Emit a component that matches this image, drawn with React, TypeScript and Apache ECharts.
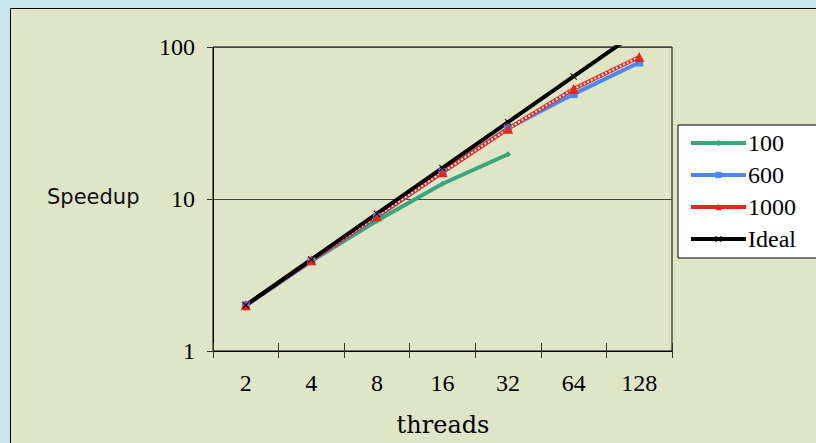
import React, { useEffect, useRef } from "react";
import * as echarts from "echarts";

const threads = ["2", "4", "8", "16", "32", "64", "128"];
const speedup100 = [2, 3.9, 7.2, 12.6, 19.7];
const speedup600 = [2, 3.9, 7.6, 15.0, 29.2, 49, 79];
const speedup1000 = [2, 3.95, 7.7, 15.0, 29.0, 53, 86];
const ideal = [2, 4, 8, 16, 32, 64, 128];
const yTicks = [1, 10, 100];

const SERIF = "'Liberation Serif', 'Times New Roman', serif";
const SERIF_WIDE = "'DejaVu Serif', serif";
const SANS = "'DejaVu Sans', sans-serif";
const XSYM = "path://M0,1L1,0L5,4L9,0L10,1L6,5L10,9L9,10L5,6L1,10L0,9L4,5Z";

export default function App() {
  const ref = useRef<HTMLDivElement>(null);
  useEffect(() => {
    if (!ref.current) return;
    const chart = echarts.init(ref.current, null, { renderer: "svg" });
    chart.setOption({
      animation: false,
      backgroundColor: "#c7e4ee",
      graphic: [
        {
          type: "rect",
          z: -10,
          shape: { x: 10.5, y: 8.5, width: 830, height: 460 },
          style: { fill: "#dfe6c8", stroke: "#000", lineWidth: 1 },
        },
        {
          type: "text",
          z: 10,
          style: {
            text: "Speedup",
            x: 47,
            y: 197,
            font: `21px ${SANS}`,
            fill: "#111",
            verticalAlign: "middle",
          },
        },
        {
          type: "text",
          z: 10,
          style: {
            text: "threads",
            x: 443,
            y: 425,
            font: `24px ${SERIF_WIDE}`,
            fill: "#000",
            align: "center",
            verticalAlign: "middle",
          },
        },
      ],
      grid: {
        left: 213,
        top: 47,
        right: 144,
        bottom: 92,
        show: true,
        borderColor: "#000",
        borderWidth: 1,
        backgroundColor: "transparent",
      },
      legend: {
        orient: "vertical",
        left: 678,
        top: 125,
        data: ["100", "600", "1000", "Ideal"],
        itemWidth: 55,
        itemHeight: 8,
        itemGap: 8,
        padding: [6, 30, 7, 11],
        backgroundColor: "#fff",
        borderColor: "#000",
        borderWidth: 1,
        lineStyle: { width: 4 },
        textStyle: { fontFamily: SERIF, fontSize: 24, color: "#000", padding: [0, 0, 0, -3] },
      },
      xAxis: [
        {
          type: "category",
          data: threads,
          position: "bottom",
          boundaryGap: true,
          axisLine: { show: true, lineStyle: { color: "#000", width: 1 } },
          axisTick: { show: true, inside: false, length: 7, lineStyle: { color: "#333" } },
          axisLabel: { fontFamily: SERIF, fontSize: 24, color: "#000", margin: 20 },
          splitLine: { show: false },
        },
        {
          type: "category",
          data: threads,
          position: "bottom",
          boundaryGap: true,
          axisLine: { show: false },
          axisTick: { show: true, inside: true, length: 8, lineStyle: { color: "#333" } },
          axisLabel: { show: false },
          splitLine: { show: false },
        },
      ],
      yAxis: {
        type: "log",
        logBase: 10,
        min: yTicks[0],
        max: yTicks[yTicks.length - 1],
        axisLine: { show: true, lineStyle: { color: "#000", width: 1 } },
        axisTick: { show: true, inside: false, length: 6, lineStyle: { color: "#333" } },
        axisLabel: { fontFamily: SERIF, fontSize: 24, color: "#000", margin: 18 },
        splitLine: { show: true, lineStyle: { color: "#444", width: 1 } },
        minorTick: { show: false },
      },
      series: [
        {
          name: "100",
          type: "line",
          data: speedup100,
          symbol: "diamond",
          symbolSize: 6,
          itemStyle: { color: "#3aa77a" },
          lineStyle: { color: "#3aa77a", width: 4 },
        },
        {
          name: "600",
          type: "line",
          data: speedup600,
          symbol: "rect",
          symbolSize: 8,
          itemStyle: { color: "#4c88f2" },
          lineStyle: { color: "#4c88f2", width: 4 },
        },
        {
          name: "1000",
          type: "line",
          data: speedup1000,
          symbol: "triangle",
          symbolSize: 10,
          itemStyle: { color: "#e8261c" },
          lineStyle: { color: "#e8261c", width: 4 },
        },
        {
          name: "1000-dots",
          type: "line",
          data: speedup1000,
          symbol: "none",
          silent: true,
          lineStyle: { color: "#fff", width: 2, type: [2, 2] },
        },
        {
          name: "Ideal",
          type: "line",
          data: ideal,
          symbol: XSYM,
          symbolSize: 7,
          itemStyle: { color: "#000" },
          lineStyle: { color: "#000", width: 4 },
        },
      ],
    });
    return () => chart.dispose();
  }, []);
  return (
    <div
      ref={ref}
      style={{ position: "fixed", left: 0, top: 0, width: 816, height: 443 }}
    />
  );
}
